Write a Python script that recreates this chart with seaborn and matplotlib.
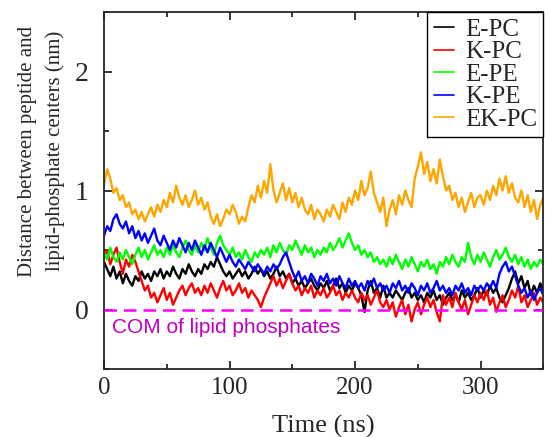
import numpy as np
import pandas as pd
import matplotlib
matplotlib.use("Agg")
import matplotlib.pyplot as plt
from matplotlib.lines import Line2D
from matplotlib.ticker import MultipleLocator
import seaborn as sns

# distance values, one every 2.5 ns from 0 to 350 ns
e_pc = [
    0.40, 0.34, 0.28, 0.36, 0.26, 0.32, 0.22, 0.30, 0.24, 0.20,
    0.28, 0.24, 0.32, 0.26, 0.30, 0.24, 0.32, 0.28, 0.34, 0.26,
    0.32, 0.28, 0.36, 0.30, 0.26, 0.34, 0.30, 0.38, 0.32, 0.28,
    0.34, 0.30, 0.38, 0.34, 0.40, 0.36, 0.44, 0.38, 0.32, 0.28,
    0.32, 0.26, 0.30, 0.34, 0.28, 0.32, 0.26, 0.30, 0.36, 0.30,
    0.34, 0.28, 0.32, 0.26, 0.30, 0.36, 0.28, 0.32, 0.26, 0.30,
    0.22, 0.26, 0.20, 0.24, 0.18, 0.22, 0.26, 0.20, 0.16, 0.22,
    0.18, 0.24, 0.16, 0.20, 0.26, 0.18, 0.22, 0.14, 0.20, 0.16,
    0.22, 0.18, 0.12, -0.02, 0.16, 0.24, 0.14, 0.18, 0.10, 0.20,
    0.10, 0.14, 0.10, 0.16, 0.12, 0.08, 0.14, 0.18, 0.10, 0.14,
    0.08, 0.12, 0.06, 0.14, 0.10, 0.16, 0.08, 0.12, 0.04, 0.10,
    0.14, 0.08, 0.12, 0.06, 0.16, 0.10, 0.14, 0.08, 0.12, 0.18,
    0.10, 0.16, 0.12, 0.20, 0.14, 0.18, 0.10, 0.06, 0.12, 0.18,
    0.26, 0.32, 0.22, 0.28, 0.18, 0.24, 0.12, 0.20, 0.14, 0.22,
    0.16]

k_pc = [
    0.44, 0.50, 0.38, 0.46, 0.52, 0.40, 0.30, 0.42, 0.36, 0.46,
    0.40, 0.32, 0.24, 0.16, 0.20, 0.10, 0.14, 0.06, 0.12, 0.18,
    0.08, 0.14, 0.04, 0.10, 0.16, 0.20, 0.12, 0.18, 0.22, 0.14,
    0.18, 0.12, 0.20, 0.14, 0.22, 0.16, 0.10, 0.18, 0.24, 0.16,
    0.20, 0.12, 0.16, 0.22, 0.14, 0.18, 0.10, 0.16, 0.12, 0.08,
    0.02, 0.10, 0.16, 0.22, 0.28, 0.20, 0.26, 0.18, 0.24, 0.30,
    0.22, 0.16, 0.20, 0.12, 0.18, 0.14, 0.20, 0.10, 0.16, 0.12,
    0.18, 0.10, 0.14, 0.20, 0.12, 0.16, 0.08, 0.14, 0.10, 0.16,
    0.10, 0.06, 0.14, 0.08, 0.12, 0.04, 0.10, 0.16, 0.06, 0.02,
    0.08, 0.00, 0.06, -0.06, 0.02, 0.08, -0.04, 0.04, -0.10, 0.00,
    0.06, -0.04, 0.04, 0.10, 0.02, 0.08, -0.02, -0.10, 0.12, 0.04,
    0.10, 0.02, 0.14, 0.06, 0.00, 0.08, -0.04, 0.04, 0.12, 0.06,
    0.14, 0.08, 0.16, 0.04, 0.10, -0.02, 0.06, 0.12, 0.02, 0.08,
    0.16, 0.10, 0.20, 0.06, 0.12, 0.02, 0.08, 0.14, 0.04, 0.10,
    0.06]

e_pe = [
    0.48, 0.42, 0.52, 0.44, 0.40, 0.48, 0.42, 0.50, 0.44, 0.38,
    0.46, 0.52, 0.44, 0.50, 0.42, 0.48, 0.54, 0.46, 0.50, 0.44,
    0.52, 0.46, 0.54, 0.48, 0.44, 0.52, 0.58, 0.50, 0.46, 0.54,
    0.48, 0.56, 0.50, 0.60, 0.52, 0.46, 0.56, 0.62, 0.54, 0.50,
    0.46, 0.52, 0.44, 0.48, 0.42, 0.50, 0.44, 0.40, 0.48, 0.44,
    0.50, 0.46, 0.52, 0.44, 0.54, 0.48, 0.56, 0.50, 0.46, 0.54,
    0.50, 0.58, 0.52, 0.46, 0.54, 0.48, 0.52, 0.44, 0.50, 0.46,
    0.52, 0.48, 0.56, 0.50, 0.54, 0.60, 0.52, 0.58, 0.64, 0.56,
    0.50, 0.54, 0.46, 0.50, 0.44, 0.48, 0.40, 0.44, 0.38, 0.42,
    0.36, 0.44, 0.38, 0.46, 0.40, 0.34, 0.42, 0.36, 0.44, 0.38,
    0.32, 0.40, 0.36, 0.42, 0.34, 0.38, 0.30, 0.40, 0.36, 0.44,
    0.38, 0.46, 0.40, 0.36, 0.44, 0.40, 0.56, 0.44, 0.38, 0.46,
    0.40, 0.48, 0.42, 0.36, 0.44, 0.50, 0.42, 0.46, 0.52, 0.44,
    0.40, 0.46, 0.38, 0.44, 0.36, 0.42, 0.34, 0.40, 0.36, 0.42,
    0.38]

k_pe = [
    0.62, 0.70, 0.66, 0.76, 0.80, 0.72, 0.68, 0.74, 0.64, 0.70,
    0.60, 0.66, 0.58, 0.64, 0.56, 0.62, 0.68, 0.58, 0.54, 0.62,
    0.56, 0.50, 0.58, 0.52, 0.60, 0.54, 0.48, 0.56, 0.50, 0.58,
    0.52, 0.46, 0.54, 0.48, 0.56, 0.50, 0.44, 0.52, 0.46, 0.40,
    0.46, 0.40, 0.36, 0.42, 0.38, 0.34, 0.40, 0.36, 0.32, 0.38,
    0.34, 0.30, 0.36, 0.32, 0.38, 0.34, 0.38, 0.44, 0.48, 0.40,
    0.32, 0.26, 0.32, 0.24, 0.28, 0.22, 0.30, 0.26, 0.20, 0.28,
    0.24, 0.30, 0.22, 0.26, 0.20, 0.28, 0.22, 0.18, 0.26, 0.20,
    0.24, 0.18, 0.22, 0.16, 0.24, 0.20, 0.26, 0.18, 0.22, 0.16,
    0.20, 0.14, 0.22, 0.18, 0.24, 0.16, 0.20, 0.14, 0.22, 0.18,
    0.12, 0.20, 0.16, 0.22, 0.14, 0.18, 0.24, 0.16, 0.20, 0.14,
    0.18, 0.12, 0.20, 0.16, 0.22, 0.14, 0.18, 0.12, 0.20, 0.16,
    0.20, 0.16, 0.22, 0.18, 0.24, 0.18, 0.30, 0.36, 0.40, 0.32,
    0.36, 0.28, 0.20, 0.14, 0.18, 0.10, 0.16, 0.08, 0.14, 0.18,
    0.12]

ek_pc = [
    1.05, 1.18, 1.10, 0.98, 1.02, 0.92, 0.96, 0.86, 0.90, 0.80,
    0.84, 0.76, 0.82, 0.74, 0.80, 0.86, 0.78, 0.88, 0.82, 0.92,
    0.86, 0.98, 0.90, 1.04, 0.94, 0.88, 0.96, 0.86, 0.92, 1.00,
    0.88, 0.94, 0.84, 0.90, 0.78, 0.72, 0.80, 0.70, 0.76, 0.84,
    0.80, 0.88, 0.82, 0.72, 0.78, 0.74, 0.86, 0.96, 0.90, 1.04,
    0.94, 1.08, 0.98, 1.22, 1.00, 0.90, 0.98, 1.06, 0.92, 1.02,
    0.90, 0.98, 0.86, 0.94, 0.84, 0.80, 0.88, 0.76, 0.84, 0.80,
    0.74, 0.84, 0.78, 0.88, 0.82, 0.76, 0.90, 0.82, 0.94, 0.88,
    1.00, 0.92, 1.08, 0.96, 1.02, 1.16, 0.98, 0.90, 0.82, 0.94,
    0.70, 0.84, 0.92, 0.80, 0.96, 0.88, 1.00, 0.92, 0.86, 1.10,
    1.20, 1.32, 1.14, 1.24, 1.08, 1.18, 1.06, 1.26, 1.12, 1.00,
    1.04, 0.92, 0.98, 0.86, 0.94, 0.82, 0.90, 0.98, 0.86, 0.94,
    0.96, 0.88, 1.00, 0.92, 1.04, 0.96, 1.10, 1.00, 1.12, 0.98,
    1.06, 0.94, 0.90, 1.00, 0.86, 0.96, 0.82, 0.92, 0.76, 0.88,
    0.94]

systems = ["E-PC", "K-PC", "E-PE", "K-PE", "EK-PC"]
colors = ["black", "#ff0000", "#00ff00", "#0000ff", "#ffa500"]
series = [e_pc, k_pc, e_pe, k_pe, ek_pc]

time_ns = np.linspace(0, 350, len(e_pc))

frames = []
for name, vals in zip(systems, series):
    frames.append(pd.DataFrame({"time": time_ns, "dist": vals, "system": name}))
df = pd.concat(frames, ignore_index=True)

sns.set_style("ticks")
plt.rcParams['font.family'] = ['Liberation Serif', 'DejaVu Serif']

fig = plt.figure(figsize=(5.45, 4.37), dpi=100)
ax = fig.add_axes([104 / 545, 1 - 369 / 437, 1 - 104 / 545 - 0.003, (369 - 12) / 437])

sns.lineplot(data=df, x="time", y="dist", hue="system", hue_order=systems,
             palette=colors, estimator=None, sort=False, linewidth=1.7,
             legend=False, ax=ax)

# reference line at the phosphate centre of mass
ax.axhline(0, color="#ff00ff", lw=1.8, ls=(0, (5, 2.8)), zorder=5)
ax.text(6, -0.15, "COM of lipid phosphates", color="#c000c0", fontsize=15,
        family="Liberation Sans", va="center")

ax.set_xlim(0, 350)
ax.set_ylim(-0.5, 2.5)
ax.xaxis.set_major_locator(MultipleLocator(100))
ax.xaxis.set_minor_locator(MultipleLocator(50))
ax.yaxis.set_major_locator(MultipleLocator(1))
ax.yaxis.set_minor_locator(MultipleLocator(0.5))
ax.tick_params(which="both", direction="in", top=True, right=True, width=1.3, labelsize=18)
ax.tick_params(which="major", length=6)
ax.tick_params(which="minor", length=3.5)
ax.tick_params(axis="y", pad=11, labelsize=20)
ax.tick_params(axis="x", pad=6)
for sp in ax.spines.values():
    sp.set_linewidth(1.3)

ax.set_xlabel("Time (ns)", fontsize=19, labelpad=11)
ax.set_ylabel("Distance between peptide and\nlipid-phosphate centers (nm)",
              fontsize=15, linespacing=1.6, labelpad=7)
ax.yaxis.label.set_y(0.61)

handles = [Line2D([], [], color=c, lw=1.2) for c in colors]
leg = ax.legend(handles, systems, loc="upper right", bbox_to_anchor=(1, 1),
                borderaxespad=0, fancybox=False, edgecolor="black", framealpha=1,
                fontsize=18, handlelength=0.8, handletextpad=0.45,
                labelspacing=0.0, borderpad=0.25)
leg.get_frame().set_linewidth(1.0)

fig.savefig("out.png", dpi=100)
